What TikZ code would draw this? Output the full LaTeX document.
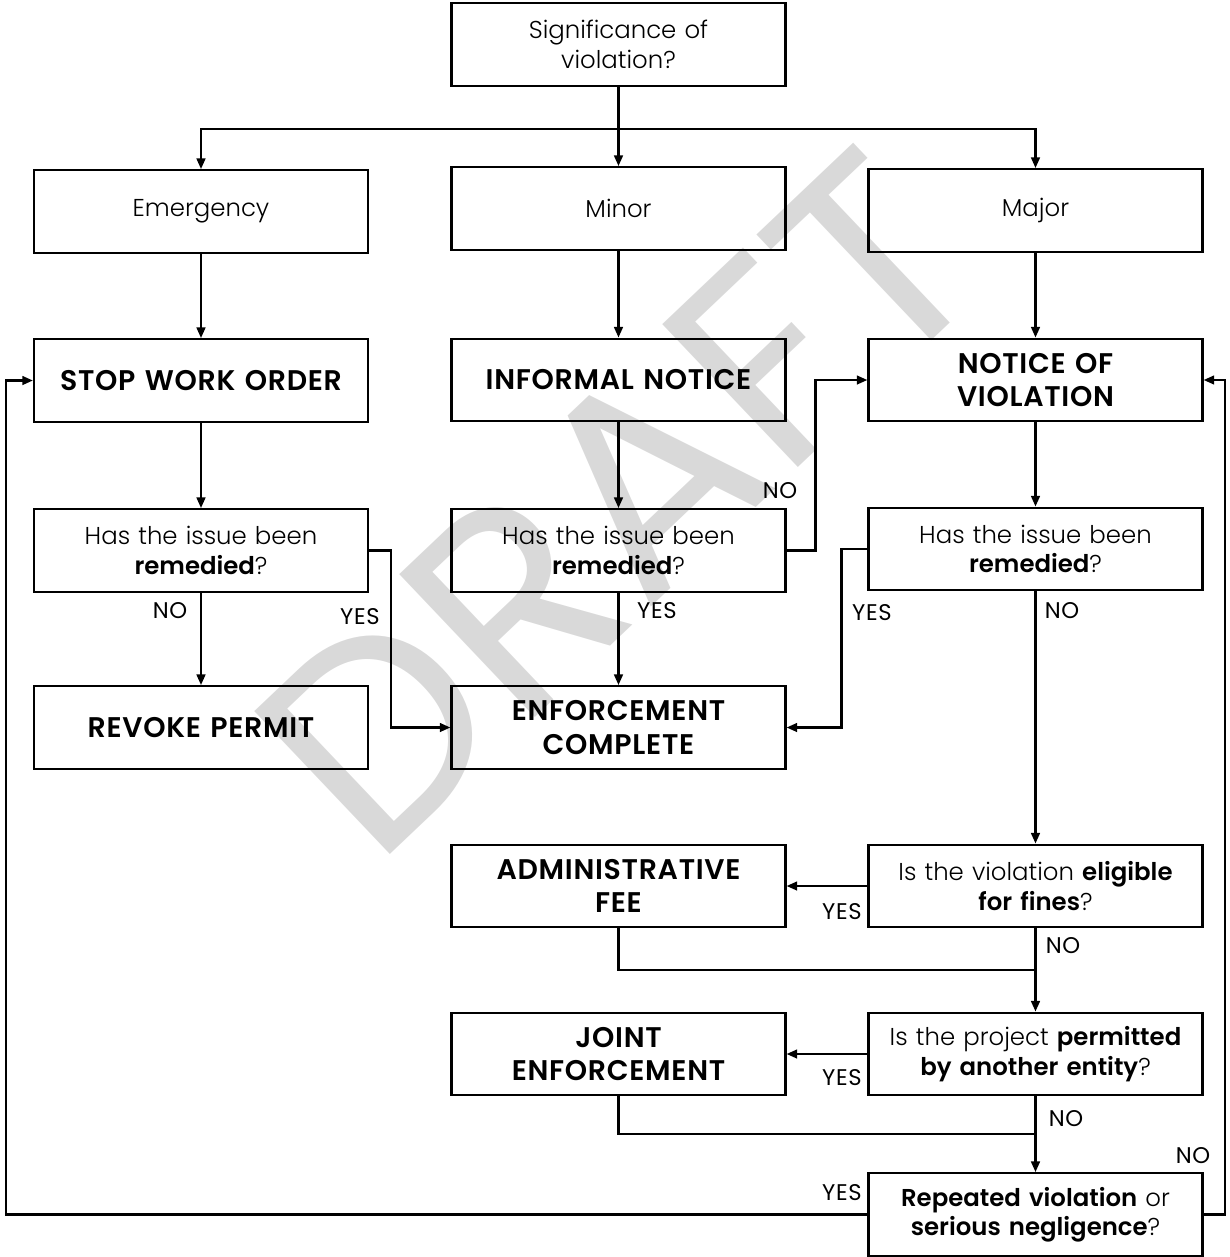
\documentclass[tikz,border=0pt]{standalone}
\usepackage{fontspec}
\setmainfont{Poppins Light}[BoldFont=Poppins SemiBold]
\newfontfamily\labfont{Poppins}[LetterSpace=3]
\newfontfamily\wmfont{Poppins}
\newfontfamily\bigfont{Poppins SemiBold}[LetterSpace=2.5]
\usetikzlibrary{arrows.meta}
\begin{document}
\begin{tikzpicture}[x=0.75pt,y=-0.75pt,
  box/.style={draw=black,line width=1.6pt,minimum width=250.5pt,minimum height=62pt,inner sep=0pt,align=center,text width=245pt},
  reg/.style={font=\fontsize{18.3}{22}\selectfont},
  big/.style={font=\bigfont\fontsize{21.3}{25}\selectfont},
  conn/.style={line width=1.8pt},
  arr/.style={conn,-{Triangle[length=8pt,width=6.5pt]}},
  lab/.style={font=\labfont\fontsize{17}{20}\selectfont,inner sep=0pt}]
\useasboundingbox (0,0) rectangle (1229,1257);
% watermark
\node[rotate=43.5,text=black!15,font=\wmfont\fontsize{212}{212}\selectfont] (wm) at (618,503) {DRAFT};
% boxes
\node[box,reg] (sig) at (618.5,44.5) {Significance of\\violation?};
\node[box,reg] (emer) at (201,211.5) {Emergency};
\node[box,reg] (minor) at (618.5,208.5) {Minor};
\node[box,reg] (major) at (1035.5,210.5) {Major};
\node[box,big] (swo) at (201,380.5) {STOP WORK ORDER};
\node[box,big] (inf) at (618.5,380) {INFORMAL NOTICE};
\node[box,big] (nov) at (1035.5,380) {NOTICE OF\\VIOLATION};
\node[box,reg] (has1) at (201,550.5) {Has the issue been\\\textbf{remedied}?};
\node[box,reg] (has2) at (618.5,550.5) {Has the issue been\\\textbf{remedied}?};
\node[box,reg] (has3) at (1035.5,549) {Has the issue been\\\textbf{remedied}?};
\node[box,big] (rev) at (201,727.5) {REVOKE PERMIT};
\node[box,big] (ec) at (618.5,727.5) {ENFORCEMENT\\COMPLETE};
\node[box,big] (adm) at (618.5,886) {ADMINISTRATIVE\\FEE};
\node[box,reg] (elig) at (1035.5,886) {Is the violation \textbf{eligible}\\\textbf{for fines}?};
\node[box,big] (joint) at (618.5,1054) {JOINT\\ENFORCEMENT};
\node[box,reg] (perm) at (1035.5,1054) {Is the project \textbf{permitted}\\\textbf{by another entity}?};
\node[box,reg] (rep) at (1035.5,1214.5) {\textbf{Repeated violation} or\\\textbf{serious negligence}?};
% coordinates
\coordinate (bar) at (618.5,129);
\coordinate (j1) at (1035.5,970);
\coordinate (j2) at (1035.5,1134);
\coordinate (lx) at (6,0);
\coordinate (rx) at (1225,0);
% connectors
\draw[arr] (sig) -- (minor);
\draw[arr] (bar) -| (emer.north);
\draw[arr] (bar) -| (major.north);
\draw[arr] (emer) -- (swo);
\draw[arr] (minor) -- (inf);
\draw[arr] (major) -- (nov);
\draw[arr] (swo) -- (has1);
\draw[arr] (inf) -- (has2);
\draw[arr] (nov) -- (has3);
\draw[arr] (has1) -- (rev);
\draw[arr] (has1.east) -- ++(22,0) |- (ec.west);
\draw[arr] (has2) -- (ec);
\draw[arr] (has2.east) -- ++(29,0) |- (nov.west);
\draw[arr] (has3.west) -- ++(-26,0) |- (ec.east);
\draw[arr] (has3) -- (elig);
\draw[arr] (elig) -- (adm);
\draw[arr] (elig) -- (perm);
\draw[conn] (adm.south) |- (j1);
\draw[arr] (perm) -- (joint);
\draw[arr] (perm) -- (rep);
\draw[conn] (joint.south) |- (j2);
\draw[arr] (rep.west) -- (rep.west -| lx) |- (swo.west);
\draw[arr] (rep.east) -- (rep.east -| rx) |- (nov.east);
% labels
\node[lab] (l1) at (170,611) {NO};
\node[lab] (l2) at (360,617) {YES};
\node[lab] (l3) at (780,491) {NO};
\node[lab] (l4) at (657,611) {YES};
\node[lab] (l5) at (872,613) {YES};
\node[lab] (l6) at (1062,611) {NO};
\node[lab] (l7) at (842,912) {YES};
\node[lab] (l8) at (1063,946) {NO};
\node[lab] (l9) at (842,1078) {YES};
\node[lab] (l10) at (1066,1119) {NO};
\node[lab] (l11) at (842,1193) {YES};
\node[lab] (l12) at (1193,1156) {NO};
\end{tikzpicture}
\end{document}
